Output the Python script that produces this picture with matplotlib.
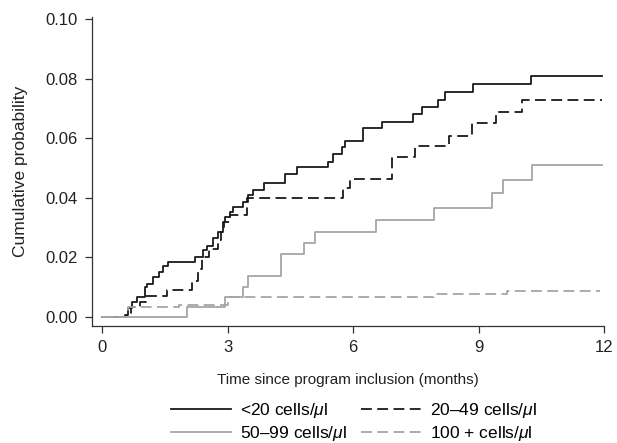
import matplotlib
matplotlib.use("Agg")
import matplotlib.pyplot as plt

plt.rcParams['font.family'] = ['Liberation Sans', 'DejaVu Sans']
plt.rcParams['mathtext.fontset'] = 'custom'
plt.rcParams['mathtext.it'] = 'Liberation Sans:italic'
plt.rcParams['mathtext.rm'] = 'Liberation Sans'

# step data (time in months, cumulative probability)
t_lt20 = [0, 0.55, 0.63, 0.71, 0.83, 1.03, 1.07, 1.23, 1.35, 1.46, 1.58, 2.22, 2.42,
          2.5, 2.66, 2.78, 2.90, 2.95, 3.06, 3.14, 3.38, 3.5, 3.62, 3.86, 4.38, 4.65,
          5.41, 5.53, 5.73, 5.81, 6.25, 6.69, 7.44, 7.64, 8.04, 8.2, 8.87, 10.25, 11.95]
p_lt20 = [0, 0.0007, 0.003, 0.005, 0.0068, 0.010, 0.011, 0.0135, 0.015, 0.017, 0.0186,
          0.0203, 0.0225, 0.024, 0.0264, 0.0287, 0.032, 0.0336, 0.0353, 0.037, 0.0387,
          0.041, 0.0426, 0.0449, 0.048, 0.0502, 0.052, 0.0547, 0.057, 0.059, 0.0633,
          0.0656, 0.0683, 0.0705, 0.0728, 0.0754, 0.0782, 0.081, 0.081]

t_20_49 = [0, 0.59, 0.7, 0.9, 1.05, 1.55, 2.16, 2.3, 2.4, 2.55, 2.78, 2.85, 2.92, 3.05,
           3.46, 5.77, 5.93, 6.92, 7.48, 8.3, 8.84, 9.41, 10.03, 11.95]
p_20_49 = [0, 0.0015, 0.0035, 0.005, 0.007, 0.009, 0.012, 0.016, 0.020, 0.0228, 0.026,
           0.0286, 0.032, 0.0342, 0.0398, 0.0432, 0.0465, 0.0538, 0.0574, 0.0607, 0.065,
           0.0687, 0.0728, 0.0728]

t_50_99 = [0, 2.02, 2.94, 3.38, 3.5, 4.29, 4.83, 5.09, 6.55, 7.94, 9.33, 9.59, 10.27, 11.95]
p_50_99 = [0, 0.0035, 0.0068, 0.0102, 0.0138, 0.021, 0.0247, 0.0286, 0.0326, 0.0367,
           0.0415, 0.046, 0.0509, 0.0509]

t_100 = [0, 0.62, 1.83, 3.02, 7.94, 9.67, 11.9]
p_100 = [0, 0.0035, 0.004, 0.0068, 0.0077, 0.0087, 0.0087]

labels = ['<20 cells/$\\mathit{\\mu}$l', '20\u201349 cells/$\\mathit{\\mu}$l',
          '50\u201399 cells/$\\mathit{\\mu}$l', '100 + cells/$\\mathit{\\mu}$l']

fig = plt.figure(figsize=(6.17, 4.43), dpi=100)
ax = fig.add_axes([92/617, 1 - 326/443, (604 - 92)/617, (326 - 17)/443])

dark = '#1a1a1a'
grey = '#a6a6a6'
l1, = ax.plot(t_lt20, p_lt20, drawstyle='steps-post', color=dark, lw=1.3)
l2, = ax.plot(t_20_49, p_20_49, drawstyle='steps-post', color=dark, lw=1.3,
              dashes=(6, 3))
l3, = ax.plot(t_50_99, p_50_99, drawstyle='steps-post', color=grey, lw=1.3)
l4, = ax.plot(t_100, p_100, drawstyle='steps-post', color=grey, lw=1.3,
              dashes=(6, 3))

ax.set_xlim(-0.24, 12)
ax.set_ylim(-0.003, 0.1007)
ax.set_xticks([0, 3, 6, 9, 12])
ax.set_yticks([0, 0.02, 0.04, 0.06, 0.08, 0.10])
ax.set_yticklabels(['0.00', '0.02', '0.04', '0.06', '0.08', '0.10'])
ax.tick_params(labelsize=12, length=5, width=0.9, pad=5, colors='#333333',
               labelcolor='#222222')
for s in ['top', 'right']:
    ax.spines[s].set_visible(False)
for s in ['left', 'bottom']:
    ax.spines[s].set_color('#333333')
    ax.spines[s].set_linewidth(0.9)

ax.set_xlabel('Time since program inclusion (months)', fontsize=11, color='#222222',
              labelpad=13)
ax.set_ylabel('Cumulative probability', fontsize=12.5, color='#222222', labelpad=13)

# legend filled column-wise: col 1 = solid lines, col 2 = dashed lines
fig.legend([l1, l3, l2, l4], [labels[0], labels[2], labels[1], labels[3]], ncol=2,
           frameon=False, fontsize=12.5, loc='upper left',
           bbox_to_anchor=(171/617, 1 - 401/443),
           handlelength=3.45, handletextpad=0.5, columnspacing=0.85,
           labelspacing=0.25, borderpad=0, borderaxespad=0)

fig.savefig('out.png', dpi=100)
